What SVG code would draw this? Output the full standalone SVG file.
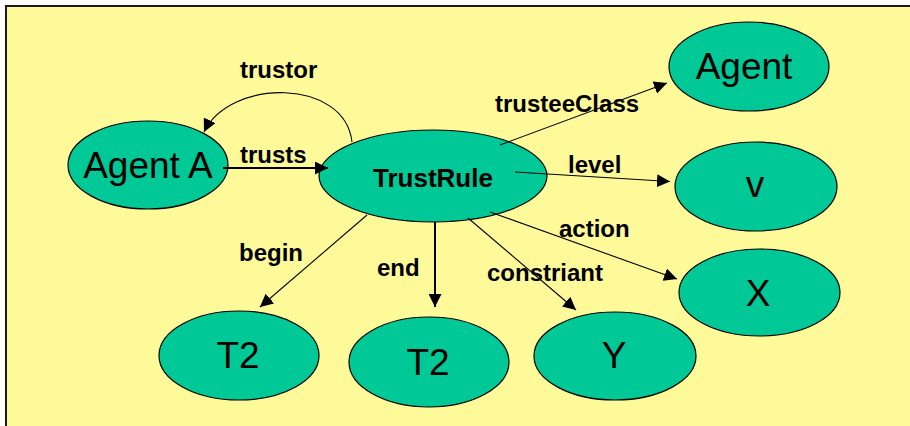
<svg xmlns="http://www.w3.org/2000/svg" width="910" height="426" viewBox="0 0 910 426">
<style>
.node{fill:#00C896;stroke:#000;stroke-width:1.2}
.big{font-family:"Liberation Sans",Arial,sans-serif;font-size:37px;fill:#000;text-anchor:middle}
.mid{font-family:"Liberation Sans",Arial,sans-serif;font-size:26px;font-weight:bold;fill:#000;text-anchor:middle}
.lbl{font-family:"Liberation Sans",Arial,sans-serif;font-size:24px;font-weight:bold;fill:#000}
.c{fill:none;stroke:#000;stroke-width:1.1}
.ct{fill:none;stroke:#000;stroke-width:2}
</style>
<defs>
<marker id="ah" viewBox="0 0 10 10" refX="10" refY="5" markerWidth="13" markerHeight="13" markerUnits="userSpaceOnUse" orient="auto">
<path d="M0,0 L10,5 L0,10 Z" fill="#000"/>
</marker>
</defs>
<rect x="0" y="0" width="910" height="426" fill="#fff"/>
<rect x="6" y="6" width="910" height="430" fill="#FFFA99" stroke="#1a1a1a" stroke-width="2"/>
<g id="agentA"><ellipse class="node" cx="148" cy="165" rx="80" ry="44"/><text class="big" x="148" y="178">Agent A</text></g>
<g id="trustRule"><ellipse class="node" cx="433" cy="176" rx="114" ry="46"/><text class="mid" x="433" y="187">TrustRule</text></g>
<g id="agent"><ellipse class="node" cx="749" cy="66.5" rx="80" ry="44.5"/><text class="big" x="744" y="79">Agent</text></g>
<g id="v"><ellipse class="node" cx="756" cy="186.5" rx="81" ry="44.5"/><text class="big" x="755" y="197">v</text></g>
<g id="x"><ellipse class="node" cx="759.5" cy="292.5" rx="80.5" ry="43.5"/><text class="big" x="758" y="306">X</text></g>
<g id="t2a"><ellipse class="node" cx="239" cy="355.5" rx="80" ry="44.5"/><text class="big" x="238" y="368">T2</text></g>
<g id="t2b"><ellipse class="node" cx="429" cy="362" rx="80" ry="45"/><text class="big" x="428" y="375">T2</text></g>
<g id="y"><ellipse class="node" cx="615" cy="356" rx="81" ry="44"/><text class="big" x="614" y="368">Y</text></g>
<g id="connectors">
<path class="c" d="M352,142 C345,78 230,78 204,132" marker-end="url(#ah)"/>
<path class="ct" d="M223,168 L328,168" marker-end="url(#ah)"/>
<path class="c" d="M500,145 L667,83" marker-end="url(#ah)"/>
<path class="c" d="M515,172 L670,181.5" marker-end="url(#ah)"/>
<path class="c" d="M490,212 L677,279" marker-end="url(#ah)"/>
<path class="c" d="M468,218 L576,310" marker-end="url(#ah)"/>
<path class="ct" d="M435,222 L435,307" marker-end="url(#ah)"/>
<path class="c" d="M367,215 L260,307" marker-end="url(#ah)"/>
</g>
<g id="labels">
<text class="lbl" x="240" y="78">trustor</text>
<text class="lbl" x="240" y="163">trusts</text>
<text class="lbl" x="495" y="112">trusteeClass</text>
<text class="lbl" x="568" y="173">level</text>
<text class="lbl" x="559" y="237">action</text>
<text class="lbl" x="487" y="281">constriant</text>
<text class="lbl" x="239" y="261">begin</text>
<text class="lbl" x="377" y="276">end</text>
</g>
</svg>
